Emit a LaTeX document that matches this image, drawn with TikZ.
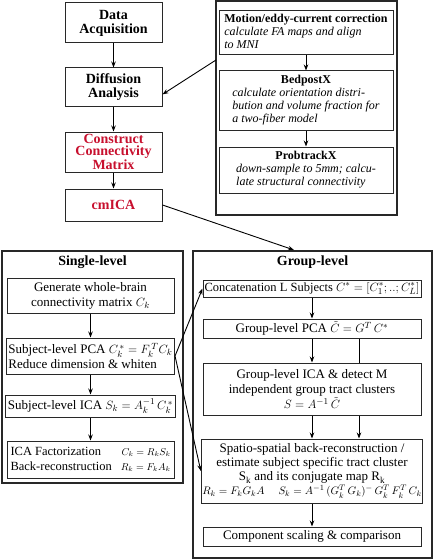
\documentclass[tikz,border=0pt]{standalone}
\usepackage{fontspec}
\setmainfont{Liberation Serif}
\usepackage{amsmath}
\usepackage{tikz}
\usetikzlibrary{arrows.meta}
\definecolor{cmred}{RGB}{200,16,46}
\definecolor{edge}{RGB}{40,40,40}
\tikzstyle{block} = [draw=edge, rectangle, line width=1pt, fill=white, inner sep=2pt, align=center]
\tikzstyle{frame} = [draw=edge, rectangle, line width=1.2pt, inner sep=0pt]
\tikzstyle{head} = [font=\fontsize{14}{14}\selectfont\bfseries, align=center]
\tikzstyle{fsltext} = [font=\fontsize{12}{13}\selectfont]
\tikzstyle{plain} = [font=\fontsize{13}{15}\selectfont]

\begin{document}
\begin{tikzpicture}[x=1pt, y=-1pt, >={Stealth[length=6pt,width=4.5pt]}, line width=0.9pt]
	\useasboundingbox (0,0) rectangle (433,559);

	% main pipeline
	\node (DATA) [block, head, minimum width=97pt, minimum height=40pt] at (113.5,23) {Data\\Acquisition};
	\node (DIFF) [block, head, minimum width=97pt, minimum height=39pt] at (113.5,87.5) {Diffusion\\Analysis};
	\node (CONN) [block, head, font=\fontsize{14}{11.5}\selectfont\bfseries, text=cmred, minimum width=97pt, minimum height=40pt] at (113.5,152) {Construct\\Connectivity\\Matrix};
	\node (CMICA) [block, head, text=cmred, minimum width=97pt, minimum height=32pt] at (113.5,205) {cmICA};

	\draw[->](DATA)--(DIFF);
	\draw[->](DIFF)--(CONN);
	\draw[->](CONN)--(CMICA);

	% FSL preprocessing
	\node (FSL) [frame, minimum width=181pt, minimum height=214pt] at (306.5,108) {};
	\node (MOTION) [block, fsltext, align=left, minimum width=174pt, minimum height=44pt] at (306,33)
		{\begin{tabular}{@{}l@{}}\textbf{Motion/eddy-current correction}\\
		\textit{calculate FA maps and align}\\
		\textit{to MNI}\end{tabular}};
	\node (BEDPOST) [block, fsltext, minimum width=174pt, minimum height=59pt] at (306,100.5)
		{\begin{tabular}{@{}l@{}}\multicolumn{1}{@{}c@{}}{\textbf{BedpostX}}\\
		\textit{calculate orientation distri-}\\
		\textit{bution and volume fraction for}\\
		\textit{a two-fiber model}\end{tabular}};
	\node (PROBTRACK) [block, fsltext, minimum width=174pt, minimum height=46pt] at (306,170)
		{\begin{tabular}{@{}l@{}}\multicolumn{1}{@{}c@{}}{\textbf{ProbtrackX}}\\
		\textit{down-sample to 5mm; calcu-}\\
		\textit{late structural connectivity}\end{tabular}};

	\draw[->](MOTION)--(BEDPOST);
	\draw[->](BEDPOST)--(PROBTRACK);
	\coordinate (FSL_OUT) at (216,60);
	\draw[->](FSL_OUT)--(DIFF.-8);

	% single-level
	\node (SINGLE) [frame, minimum width=181pt, minimum height=232pt] at (92.5,367) {};
	\node (SINGLE_TITLE) [head] at (92.5,262) {Single-level};
	\node (GEN) [block, plain, minimum width=167pt, minimum height=35pt] at (90.5,295.5) {Generate whole-brain\\connectivity matrix $C_k$};
	\node (SPCA) [block, plain, align=left, minimum width=167pt, minimum height=36pt] at (90.5,356) {Subject-level PCA $C_k^{\,*} = F_k^{\,T}C_k$\\Reduce dimension \& whiten};
	\node (SICA) [block, plain, minimum width=167pt, minimum height=22pt] at (90.5,406) {Subject-level ICA $S_k = A_k^{-1}\,C_k^{\,*}$};
	\node (FACT) [block, plain, font=\fontsize{12.5}{15}\selectfont, minimum width=167pt, minimum height=37pt] at (90.5,459.5)
		{\begin{tabular*}{160pt}{@{}l@{\extracolsep{\fill}}r@{}}ICA Factorization & {\fontsize{10}{12}\selectfont$C_k = R_kS_k$}\\
		Back-reconstruction & {\fontsize{10}{12}\selectfont$R_k = F_kA_k$}\end{tabular*}};

	\draw[->](GEN)--(SPCA);
	\draw[->](SPCA)--(SICA);
	\draw[->](SICA)--(FACT);

	% group-level
	\node (GROUP) [frame, minimum width=239pt, minimum height=307pt] at (312.5,404.5) {};
	\node (GROUP_TITLE) [head] at (312.5,262) {Group-level};
	\node (CONCAT) [block, plain, font=\fontsize{12.5}{15}\selectfont, minimum width=218pt, minimum height=17pt, inner sep=1pt] at (312,288.5) {Concatenation L Subjects $C^{*} = [C_1^{*};..;C_L^{*}]$};
	\node (GPCA) [block, plain, minimum width=218pt, minimum height=19pt, inner sep=1pt] at (312,328.5) {Group-level PCA $\tilde{C} = G^{T}\,C^{*}$};
	\node (BREC) [block, plain, font=\fontsize{13}{14}\selectfont, minimum width=218pt, minimum height=64pt, inner sep=1pt] at (312,471)
		{Spatio-spatial back-reconstruction /\\
		estimate subject specific tract cluster\\
		S\textsubscript{k} and its conjugate map R\textsubscript{k}\\
		{\fontsize{11}{12}\selectfont $R_k = F_kG_kA$\hspace{14pt}$S_k = A^{-1}\,(G_k^T\,G_k)^{-}\,G_k^T\,F_k^T\,C_k$}};
	\draw[->]([xshift=47pt]GPCA.south)--([xshift=47pt]BREC.north);
	\node (GICA) [block, plain, minimum width=218pt, minimum height=52pt, inner sep=1pt] at (312,389)
		{Group-level ICA \& detect M\\independent group tract clusters\\$S = A^{-1}\,\tilde{C}$};
	\node (COMP) [block, plain, minimum width=218pt, minimum height=19pt, inner sep=1pt] at (312,536.5) {Component scaling \& comparison};

	\draw[->](CONCAT)--(GPCA);
	\draw[->](GPCA)--(GICA);
	\draw[->](GICA)--(BREC);
	\draw[->](BREC)--(COMP);

	% links between parts
	\coordinate (GROUP_IN) at (294,250);
	\draw[->](CMICA.east)--(GROUP_IN);
	\draw[->](SPCA.east)--(CONCAT.west);
	\draw[->](SPCA.east)--(BREC.west);
\end{tikzpicture}
\end{document}
